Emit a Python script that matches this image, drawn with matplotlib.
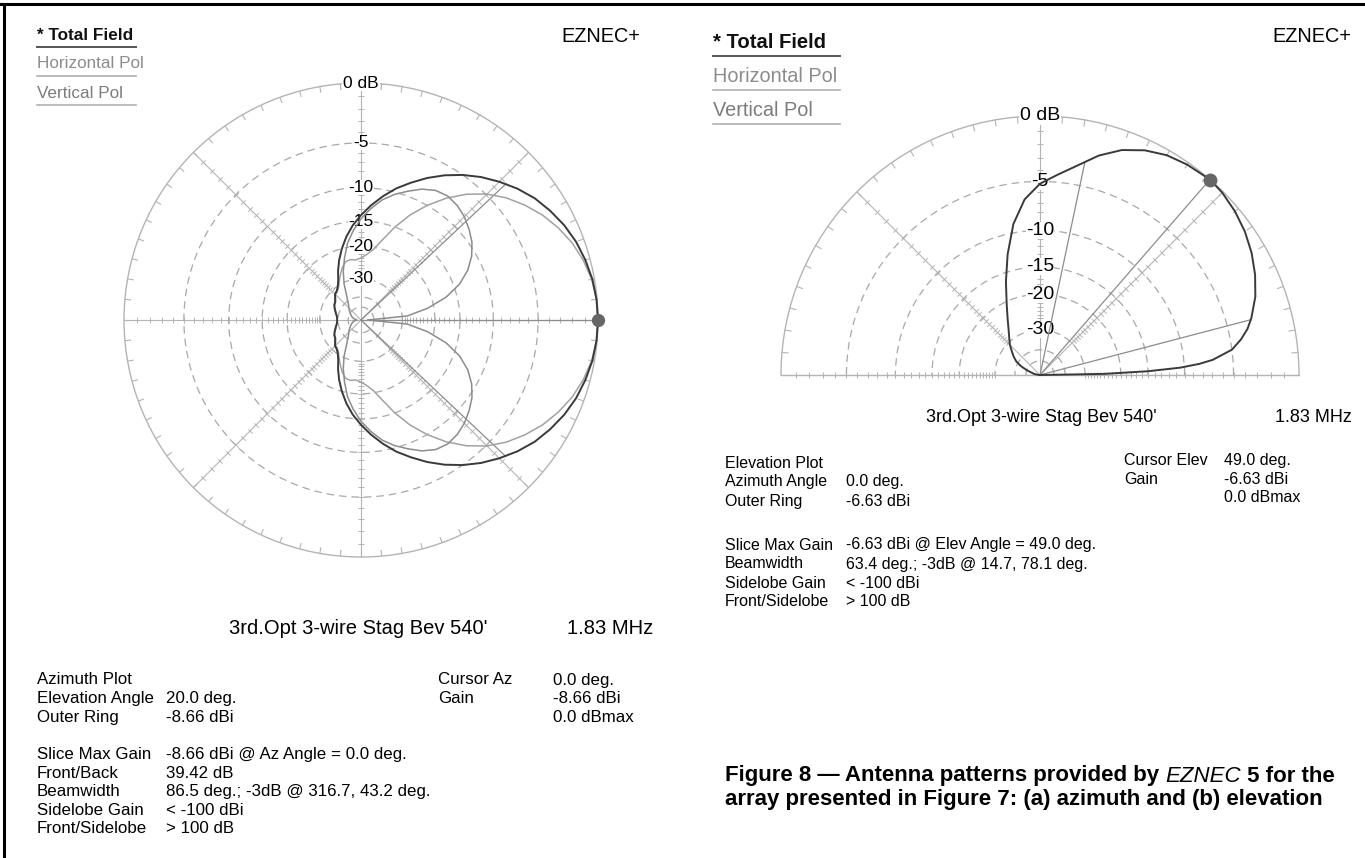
import matplotlib
matplotlib.use('Agg')
import matplotlib.pyplot as plt
from matplotlib.lines import Line2D
import numpy as np

plt.rcParams['font.family'] = ['Liberation Sans', 'DejaVu Sans']

W, H = 1365, 858

# azimuth slice at 20 deg elevation, dB relative to outer ring (-8.66 dBi)
# values read for 0..180 deg, pattern is symmetric about the array axis
az_angles = list(range(0, 181, 5))
az_total = [0, -0.04, -0.15, -0.35, -0.6, -0.95, -1.4, -1.9, -2.55, -3.3,
            -4.1, -5.0, -6.0, -7.1, -8.3, -9.5, -10.9, -12.4, -14.0, -15.7,
            -17.7, -20.0, -22.5, -25.3, -28.3, -30.3, -31.5, -32.0, -33.4, -34.6,
            -35.0, -35.9, -37.0, -37.9, -38.8, -39.3, -39.4]
az_hpol = [-60, -28, -21.5, -17, -14, -12, -10.6, -9.6, -8.9, -8.3,
           -7.9, -7.7, -7.9, -8.5, -9.4, -10.3, -11.4, -12.9, -14.6, -16.7,
           -19.1, -22.5, -26.1, -30.5, -36, -40, -43, -45, -47, -49,
           -51, -53, -55, -57, -60, -65, -70]
az_vpol = [0, -0.05, -0.2, -0.5, -0.9, -1.45, -2.1, -2.9, -3.8, -4.9,
           -6.3, -8.0, -10.0, -12.3, -15.0, -18.0, -20.5, -22.0, -23.0, -23.5,
           -23.2, -23.5, -25.0, -27.0, -29.0, -30.8, -31.9, -32.4, -33.8, -34.9,
           -35.3, -36.1, -37.2, -38.0, -38.9, -39.4, -39.4]

# elevation slice at azimuth 0 deg, dB relative to outer ring (-6.63 dBi)
el_angles = [0, 1, 2, 3, 4, 5, 7.5, 10, 12.5, 15, 20, 25, 30, 35, 40, 45, 49,
             55, 60, 65, 70, 75, 80, 85, 90, 95, 100, 105, 110, 115, 120, 125,
             130, 135, 140, 145, 150, 155, 160, 170, 180]
el_total = [-99, -24, -15, -10.5, -8.3, -6.9, -5.0, -4.1, -3.4, -2.9, -2.1,
            -1.5, -1.0, -0.6, -0.3, -0.08, 0, -0.15, -0.35, -0.75, -1.35, -2.25,
            -3.4, -4.35, -5.2, -6.6, -9.0, -12.5, -16.4, -20.4, -23.8, -26.7,
            -29.0, -31.0, -33.5, -35.8, -38.5, -43.0, -50.0, -65.0, -99]

ring_db = [-5, -10, -15, -20, -30, -40, -50]
ring_labels = ['-5', '-10', '-15', '-20', '-30']
tick_db = list(range(-1, -31, -1))

az_cursor = 0.0
az_bw = [316.7, 43.2]
el_cursor = 49.0
el_bw = [14.7, 78.1]

GRID = '#b4b4b4'
RING = '#a8a8a8'
C_TOT = '#3a3a3a'
C_H = '#8c8c8c'
C_V = '#a2a2a2'


# ARRL style log scale used by EZNEC
def ring_fwd(db):
    return 0.89 ** (-np.asarray(db, dtype=float) / 2)


def ring_inv(r):
    r = np.clip(np.asarray(r, dtype=float), 1e-12, None)
    return -2 * np.log(r) / np.log(0.89)


fig = plt.figure(figsize=(W / 100, H / 100), dpi=100)
fig.patch.set_facecolor('white')


def px_rect(x0, y0, x1, y1):
    return [x0 / W, 1 - y1 / H, (x1 - x0) / W, (y1 - y0) / H]


def T(x, y, s, **kw):
    kw.setdefault('va', 'center')
    return fig.text(x / W, 1 - y / H, s, **kw)


def hline(x0, x1, y, color, lw):
    fig.add_artist(Line2D([x0 / W, x1 / W], [1 - y / H, 1 - y / H],
                          color=color, lw=lw, transform=fig.transFigure))


def setup_polar(ax, half, label_size):
    ax.set_rscale('function', functions=(ring_fwd, ring_inv))
    if half:
        ax.set_thetamin(0)
        ax.set_thetamax(180)
        spokes = [0, 45, 90, 135, 180]
        outer = np.arange(0, 181, 5)
    else:
        spokes = list(range(0, 360, 45))
        outer = np.arange(0, 360, 5)
    ax.set_rlim(-200, 0)
    ax.set_xticks(np.deg2rad(spokes))
    ax.set_xticklabels([])
    ax.set_yticks(ring_db)
    ax.set_yticklabels([])
    ax.tick_params(length=0)
    ax.xaxis.grid(True, color=GRID, lw=0.8, ls='-')
    ax.yaxis.grid(True, color=RING, lw=0.9, ls=(0, (6, 4)))
    for sp in ax.spines.values():
        sp.set_color(GRID)
        sp.set_linewidth(1.0)
    ax.set_facecolor('none')
    # ticks on the outer ring
    ax.vlines(np.deg2rad(outer), -0.45, 0, colors=GRID, lw=0.8, clip_on=False)
    # dB ticks along the spokes
    for a in spokes:
        ax.plot(np.full(len(tick_db), np.deg2rad(a)), tick_db, ls='none',
                marker=(2, 0, a), ms=4.5, mew=0.7, color=GRID, clip_on=False)
    ax.text(np.pi / 2, 0, '0 dB', ha='center', va='center', fontsize=label_size,
            bbox=dict(fc='white', ec='none', pad=0.6), zorder=3)
    for d, lab in zip(ring_db, ring_labels):
        ax.text(np.pi / 2, d, lab, ha='center', va='center', fontsize=label_size,
                bbox=dict(fc='white', ec='none', pad=0.0), zorder=3)


# ---------------- left: azimuth plot ----------------
axL = fig.add_axes(px_rect(124, 83, 598, 557), projection='polar')
setup_polar(axL, False, 12.5)

full_ang = az_angles + [360 - a for a in az_angles[-2::-1]]


def mirror(v):
    return v + v[-2::-1]


th = np.deg2rad(full_ang)
axL.plot(th, mirror(az_vpol), color=C_V, lw=1.1, zorder=5, clip_on=False)
axL.plot(th, mirror(az_hpol), color=C_H, lw=1.1, zorder=5, clip_on=False)
axL.plot(th, mirror(az_total), color=C_TOT, lw=1.4, zorder=6, clip_on=False)
for a in az_bw:
    axL.plot([np.deg2rad(a)] * 2, [-200, -3], color=C_H, lw=0.9, zorder=4)
axL.plot([np.deg2rad(az_cursor)] * 2, [-200, 0], color=C_H, lw=0.9, zorder=4)
axL.plot(np.deg2rad(az_cursor), 0, 'o', ms=8.5, color='#666666', zorder=7,
         clip_on=False)

# ---------------- right: elevation plot ----------------
# polar keeps the wedge square, so the half disc sits in the middle half of the box
axR = fig.add_axes(px_rect(781, -13.5, 1299, 504.5), projection='polar')
setup_polar(axR, True, 14)
axR.plot(np.deg2rad(el_angles), el_total, color=C_TOT, lw=1.4, zorder=6,
         clip_on=False)
for a in el_bw:
    axR.plot([np.deg2rad(a)] * 2, [-200, -3], color=C_H, lw=0.9, zorder=4)
axR.plot([np.deg2rad(el_cursor)] * 2, [-200, 0], color=C_H, lw=0.9, zorder=4)
axR.plot(np.deg2rad(el_cursor), 0, 'o', ms=9, color='#666666', zorder=7,
         clip_on=False)

# ---------------- frame ----------------
hline(0, W, 4, 'black', 2.2)
fig.add_artist(Line2D([4 / W, 4 / W], [0, 1 - 4 / H], color='black', lw=2.2,
                      transform=fig.transFigure))

# ---------------- legends / headers ----------------
T(37, 36, '* Total Field', fontsize=12.3, fontweight='bold', color='#111111')
hline(37, 136, 47, '#555555', 1.4)
T(37, 64, 'Horizontal Pol', fontsize=12.3, color='#8c8c8c')
hline(37, 136, 76, '#b0b0b0', 1.2)
T(37, 94, 'Vertical Pol', fontsize=12.3, color='#7c7c7c')
hline(37, 136, 105, '#b0b0b0', 1.2)
T(640, 37, 'EZNEC+', fontsize=14.3, ha='right')

T(713, 43, '* Total Field', fontsize=14.6, fontweight='bold', color='#111111')
hline(713, 840, 56, '#555555', 1.4)
T(713, 77, 'Horizontal Pol', fontsize=14.3, color='#8c8c8c')
hline(713, 840, 90, '#b0b0b0', 1.2)
T(713, 111, 'Vertical Pol', fontsize=14.3, color='#7c7c7c')
hline(713, 840, 124, '#b0b0b0', 1.2)
T(1351, 37, 'EZNEC+', fontsize=14.3, ha='right')

# ---------------- left info block ----------------
T(358, 629, "3rd.Opt 3-wire Stag Bev 540'", fontsize=14.5, ha='center')
T(567, 629, '1.83 MHz', fontsize=14.5)

rowL = 680
dyL = 18.6
left_rows = [
    (0, 'Azimuth Plot', ''),
    (1, 'Elevation Angle', '20.0 deg.'),
    (2, 'Outer Ring', '-8.66 dBi'),
    (4, 'Slice Max Gain', '-8.66 dBi @ Az Angle = 0.0 deg.'),
    (5, 'Front/Back', '39.42 dB'),
    (6, 'Beamwidth', '86.5 deg.; -3dB @ 316.7, 43.2 deg.'),
    (7, 'Sidelobe Gain', '< -100 dBi'),
    (8, 'Front/Sidelobe', '> 100 dB'),
]
for k, lab, val in left_rows:
    T(37, rowL + k * dyL, lab, fontsize=12.2)
    T(166, rowL + k * dyL, val, fontsize=12.2)
for k, lab, val in [(0, 'Cursor Az', '0.0 deg.'), (1, 'Gain', '-8.66 dBi'),
                    (2, '', '0.0 dBmax')]:
    T(438, rowL + k * dyL, lab, fontsize=12.2)
    T(553, rowL + k * dyL, val, fontsize=12.2)

# ---------------- right info block ----------------
T(1041, 417, "3rd.Opt 3-wire Stag Bev 540'", fontsize=13, ha='center')
T(1352, 417, '1.83 MHz', fontsize=13, ha='right')

right_rows = [
    (463, 'Elevation Plot', ''),
    (482, 'Azimuth Angle', '0.0 deg.'),
    (501, 'Outer Ring', '-6.63 dBi'),
    (545, 'Slice Max Gain', '-6.63 dBi @ Elev Angle = 49.0 deg.'),
    (564, 'Beamwidth', '63.4 deg.; -3dB @ 14.7, 78.1 deg.'),
    (583, 'Sidelobe Gain', '< -100 dBi'),
    (602, 'Front/Sidelobe', '> 100 dB'),
]
for y, lab, val in right_rows:
    T(725, y, lab, fontsize=11.5)
    T(846, y, val, fontsize=11.5)
for y, lab, val in [(460, 'Cursor Elev', '49.0 deg.'), (479, 'Gain', '-6.63 dBi'),
                    (498, '', '0.0 dBmax')]:
    T(1124, y, lab, fontsize=11.5)
    T(1224, y, val, fontsize=11.5)

# ---------------- caption ----------------
narrow = ['Liberation Sans Narrow', 'Liberation Sans']
cap = dict(fontsize=16, fontweight='bold', family=narrow)
renderer = fig.canvas.get_renderer()
y1, y2 = 776, 800
t1 = T(725, y1, 'Figure 8 \u2014 Antenna patterns provided by ', **cap)
x = t1.get_window_extent(renderer).x1
t2 = fig.text(x / W, 1 - y1 / H, 'EZNEC', va='center', fontsize=16,
              fontstyle='italic', family=narrow)
x = t2.get_window_extent(renderer).x1
fig.text(x / W, 1 - y1 / H, ' 5 for the', va='center', **cap)
T(725, y2, 'array presented in Figure 7: (a) azimuth and (b) elevation', **cap)

fig.savefig('out.png', dpi=100, facecolor='white')
